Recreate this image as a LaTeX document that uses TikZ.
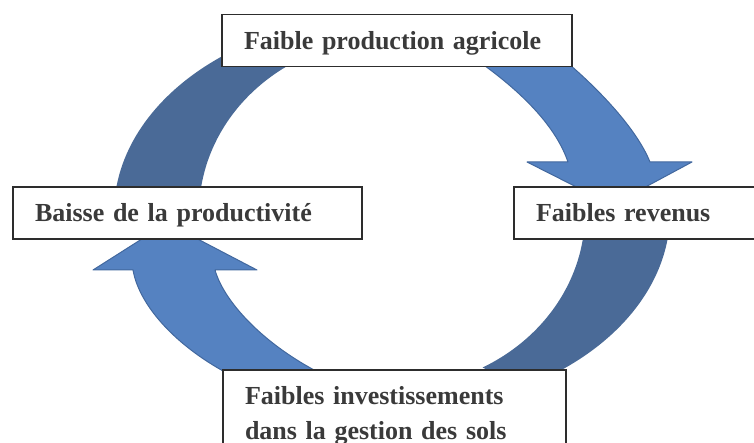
\documentclass[tikz,border=0pt]{standalone}
\usepackage{fontspec}
\setmainfont{Liberation Serif}
\usepackage{tikz}

\definecolor{anneaufonce}{RGB}{74,106,151}
\definecolor{flecheclair}{RGB}{85,130,193}
\definecolor{flechebord}{RGB}{66,104,158}
\definecolor{cadre}{RGB}{45,45,45}
\definecolor{texte}{RGB}{58,58,58}

\begin{document}
\begin{tikzpicture}[x=1pt,y=-1pt,%
                    etape/.style={draw=cadre,line width=1.6pt,fill=white,text=texte,
                        font=\bfseries\fontsize{26}{35}\selectfont,
                        inner xsep=22pt,inner ysep=17pt,text height=18pt,text depth=0pt,
                        text width=#1,align=left},
                    anneau/.style={fill=anneaufonce},
                    fleche/.style={fill=flecheclair,draw=flechebord,line width=1pt,line join=round},
        ]
        \clip (0,0) rectangle (754,443);
        \coordinate (centre) at (392,213);
%
        \fill[anneau] ([shift={(180:278 and 198)}]centre) arc[start angle=180,end angle=242,x radius=278,y radius=198]
            -- ([shift={(242:193 and 175)}]centre) arc[start angle=242,end angle=180,x radius=193,y radius=175] -- cycle;
        \fill[anneau] ([shift={(0:278 and 198)}]centre) arc[start angle=0,end angle=62,x radius=278,y radius=198]
            -- ([shift={(62:193 and 175)}]centre) arc[start angle=62,end angle=0,x radius=193,y radius=175] -- cycle;
%
        \filldraw[fleche] (462,50) .. controls (500,75) and (552,115) .. (568,162) -- (527,162) -- (612,205)
            -- (692,162) -- (650,162) .. controls (635,125) and (590,80) .. (552,50) -- cycle;
        \filldraw[fleche] (245,382) .. controls (185,355) and (140,310) .. (133,270) -- (93,270) -- (167,223)
            -- (257,270) -- (215,270) .. controls (225,305) and (270,350) .. (330,378) -- cycle;
%
        \node[etape=306pt] (production) at (397,40.5) {Faible production agricole};
        \node[etape=204pt] (revenus) at (638,213) {Faibles revenus};
        \node[etape=299pt,anchor=north,text depth={}] (investissements) at (394.5,369) {Faibles investissements\\dans la gestion des sols};
        \node[etape=305pt] (productivite) at (187.5,213) {Baisse de la productivité};
    \end{tikzpicture}
\end{document}
